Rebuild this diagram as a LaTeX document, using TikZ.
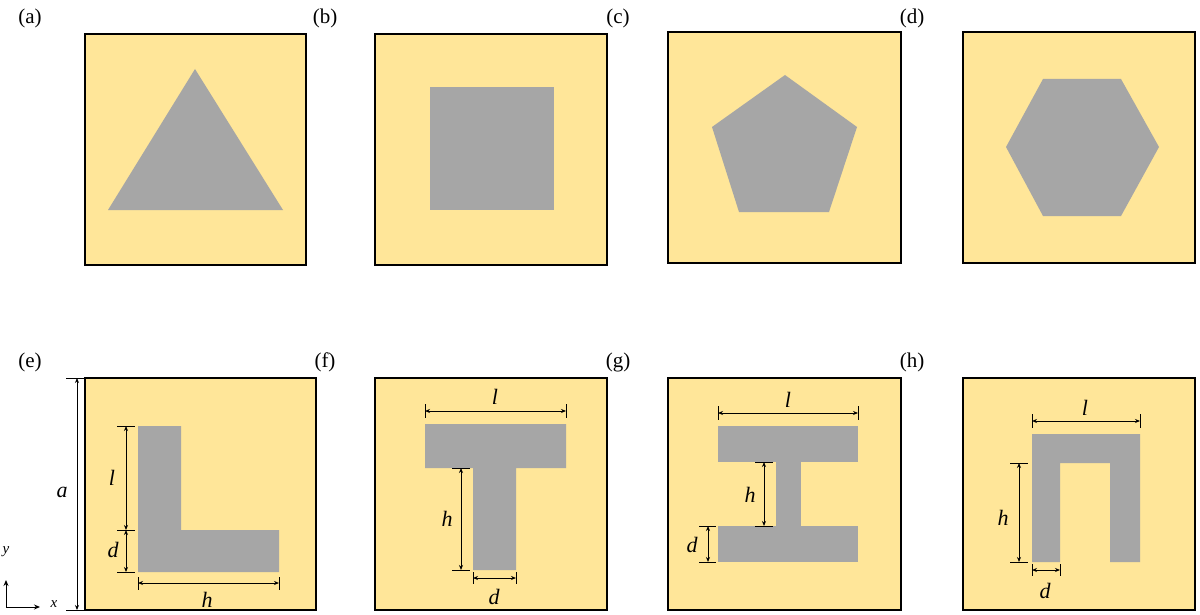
\documentclass[tikz,border=0pt]{standalone}
\usepackage{fontspec}
\setmainfont{Liberation Serif}
\usetikzlibrary{arrows.meta}
\definecolor{cell}{HTML}{FFE699}
\definecolor{hole}{HTML}{A6A6A6}
\begin{document}
\begin{tikzpicture}[x=1pt,y=-1pt,
  cellbox/.style={fill=cell,draw=black,line width=1.2pt},
  holefill/.style={fill=hole},
  dimline/.style={{Stealth[length=5pt,width=4pt]}-{Stealth[length=5pt,width=4pt]},line width=0.9pt},
  tick/.style={line width=0.9pt},
  lab/.style={font=\fontsize{21}{21}\selectfont},
  vlab/.style={font=\fontsize{22}{22}\selectfont\itshape}]
\useasboundingbox (0,0) rectangle (1200,615);
% panel labels
\foreach \t/\x/\y in {(a)/30/18,(b)/325/18,(c)/618/18,(d)/912/18,(e)/30/362,(f)/325/362,(g)/618/362,(h)/912/362}
  \node[lab] at (\x,\y) {\t};
% (a)
\draw[cellbox] (85,34) rectangle (306,265);
\fill[holefill] (108,210) -- (283,210) -- (195,69) -- cycle;
% (b)
\draw[cellbox] (375,34) rectangle (607,265);
\fill[holefill] (430,87) rectangle (554,210);
% (c)
\draw[cellbox] (668,32) rectangle (901,263);
\fill[holefill] (785,75) -- (857,127) -- (829,212) -- (739,212) -- (712,127) -- cycle;
% (d)
\draw[cellbox] (963,32) rectangle (1195,263);
\fill[holefill] (1006,147) -- (1043,79) -- (1121,79) -- (1159,147) -- (1121,216) -- (1043,216) -- cycle;
% (e)
\draw[cellbox] (85,378) rectangle (316,610);
\fill[holefill] (138,426) -- (181,426) -- (181,530) -- (279,530) -- (279,572) -- (138,572) -- cycle;
\draw[tick] (66,378) -- (85,378) (66,610) -- (85,610);
\draw[dimline] (77,378) -- (77,610);
\node[vlab] at (62,492) {a};
\draw[tick] (117,426) -- (135,426) (117,530) -- (135,530) (117,572) -- (135,572);
\draw[dimline] (126,426) -- (126,530);
\draw[dimline] (126,530) -- (126,572);
\node[vlab] at (112,478) {l};
\node[vlab] at (113,550) {d};
\draw[tick] (138,577) -- (138,590) (279,577) -- (279,590);
\draw[dimline] (138,583) -- (279,583);
\node[vlab] at (207,600) {h};
% axes
\draw[-{Stealth[length=6pt,width=5pt]},line width=0.9pt] (6,607) -- (6,580);
\draw[-{Stealth[length=6pt,width=5pt]},line width=0.9pt] (6,607) -- (40,607);
\node[vlab,font=\fontsize{15}{15}\selectfont\itshape] at (6,552) {y};
\node[vlab,font=\fontsize{15}{15}\selectfont\itshape] at (54,604) {x};
% (f)
\draw[cellbox] (375,378) rectangle (607,610);
\fill[holefill] (425,424) -- (566,424) -- (566,468) -- (516,468) -- (516,570) -- (473,570) -- (473,468) -- (425,468) -- cycle;
\draw[tick] (425,404) -- (425,418) (566,404) -- (566,418);
\draw[dimline] (425,411) -- (566,411);
\node[vlab] at (495,397) {l};
\draw[tick] (452,468) -- (470,468) (452,570) -- (470,570);
\draw[dimline] (461,468) -- (461,570);
\node[vlab] at (447,519) {h};
\draw[tick] (473,572) -- (473,584) (516,572) -- (516,584);
\draw[dimline] (473,578) -- (516,578);
\node[vlab] at (494,597) {d};
% (g)
\draw[cellbox] (668,378) rectangle (901,610);
\fill[holefill] (718,426) rectangle (858,462);
\fill[holefill] (776,461) rectangle (801,527);
\fill[holefill] (718,526) rectangle (858,562);
\draw[tick] (718,406) -- (718,420) (858,406) -- (858,420);
\draw[dimline] (718,413) -- (858,413);
\node[vlab] at (788,400) {l};
\draw[tick] (755,462) -- (773,462) (755,526) -- (773,526);
\draw[dimline] (764,462) -- (764,526);
\node[vlab] at (750,495) {h};
\draw[tick] (699,526) -- (716,526) (699,562) -- (716,562);
\draw[dimline] (708,526) -- (708,562);
\node[vlab] at (692,545) {d};
% (h)
\draw[cellbox] (963,378) rectangle (1195,610);
\fill[holefill] (1032,434) -- (1140,434) -- (1140,562) -- (1110,562) -- (1110,463) -- (1060,463) -- (1060,562) -- (1032,562) -- cycle;
\draw[tick] (1032,414) -- (1032,428) (1140,414) -- (1140,428);
\draw[dimline] (1032,421) -- (1140,421);
\node[vlab] at (1085,408) {l};
\draw[tick] (1010,463) -- (1028,463) (1010,562) -- (1028,562);
\draw[dimline] (1019,463) -- (1019,562);
\node[vlab] at (1003,518) {h};
\draw[tick] (1032,564) -- (1032,576) (1060,564) -- (1060,576);
\draw[dimline] (1032,570) -- (1060,570);
\node[vlab] at (1045,591) {d};
\end{tikzpicture}
\end{document}
